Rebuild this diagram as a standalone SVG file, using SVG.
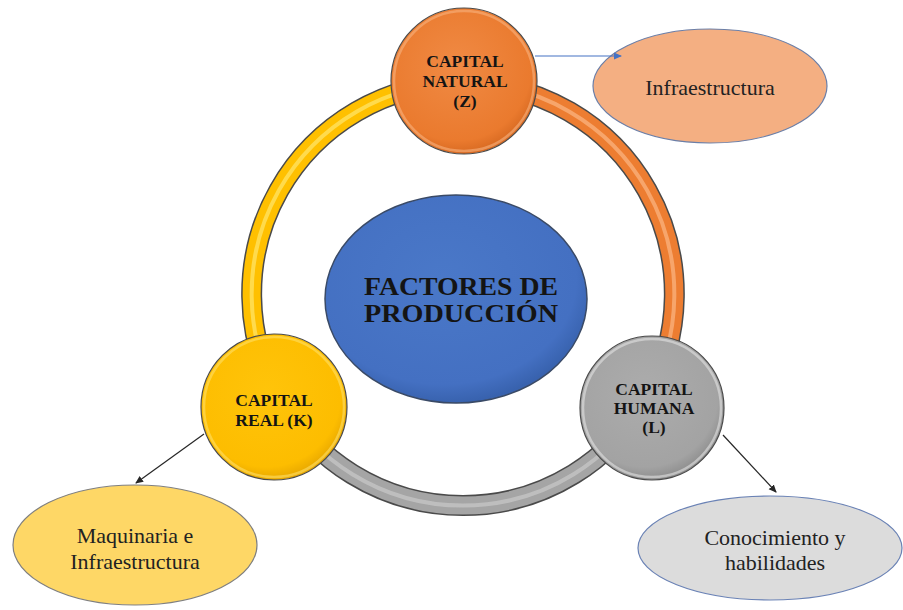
<svg xmlns="http://www.w3.org/2000/svg" width="903" height="610" viewBox="0 0 903 610">
<defs>
<style>
.bold{font-family:"Liberation Serif","Times New Roman",serif;font-weight:bold;fill:#141414;text-anchor:middle}
.reg{font-family:"Liberation Serif","Times New Roman",serif;fill:#222;text-anchor:middle}
.node{stroke:#4a4a4a;stroke-width:1.2}
.rim{fill:none;stroke-width:2.5;stroke-opacity:0.6}
.ring-o{fill:none;stroke:#4a4a4a;stroke-width:21}
.ring{fill:none;stroke-width:18}
.hl{fill:none;stroke-width:4;stroke-opacity:0.55}
.conn{fill:none;stroke-width:1.2}
</style>
<radialGradient id="gO" cx="0.45" cy="0.4" r="0.6"><stop offset="0" stop-color="#F08A44"/><stop offset="0.85" stop-color="#EA7A2E"/><stop offset="1" stop-color="#D86A22"/></radialGradient>
<radialGradient id="gY" cx="0.45" cy="0.4" r="0.6"><stop offset="0" stop-color="#FFC40A"/><stop offset="0.85" stop-color="#FDBD00"/><stop offset="1" stop-color="#E8A800"/></radialGradient>
<radialGradient id="gG" cx="0.45" cy="0.4" r="0.6"><stop offset="0" stop-color="#ACACAC"/><stop offset="0.85" stop-color="#A3A3A3"/><stop offset="1" stop-color="#8E8E8E"/></radialGradient>
<radialGradient id="gB" cx="0.45" cy="0.4" r="0.6"><stop offset="0" stop-color="#4A78C8"/><stop offset="0.85" stop-color="#4470C2"/><stop offset="1" stop-color="#3862AE"/></radialGradient>
<marker id="aB" markerWidth="8" markerHeight="8" refX="7" refY="4" orient="auto" markerUnits="userSpaceOnUse"><path d="M0,0.5 L8,4 L0,7.5 Z" fill="#4472C4"/></marker>
<marker id="aK" markerWidth="8" markerHeight="8" refX="7" refY="4" orient="auto" markerUnits="userSpaceOnUse"><path d="M0,0.5 L8,4 L0,7.5 Z" fill="#262626"/></marker>
</defs>
<rect width="903" height="610" fill="#ffffff"/>

<g id="ring">
<path class="ring-o" d="M463,83 A211,211 0 0 1 644,403"/>
<path class="ring" stroke="#ED7D31" d="M463,83 A211,211 0 0 1 644,403"/>
<path class="hl" stroke="#FFC79A" d="M463,83 A211,211 0 0 1 644,403"/>
<path class="ring-o" d="M644,403 A211,211 0 0 1 282,403"/>
<path class="ring" stroke="#A5A5A5" d="M644,403 A211,211 0 0 1 282,403"/>
<path class="hl" stroke="#D4D4D4" d="M644,403 A211,211 0 0 1 282,403"/>
<path class="ring-o" d="M282,403 A211,211 0 0 1 463,83"/>
<path class="ring" stroke="#FFC000" d="M282,403 A211,211 0 0 1 463,83"/>
<path class="hl" stroke="#FFF08A" d="M282,403 A211,211 0 0 1 463,83"/>
</g>

<g id="center">
<ellipse cx="456" cy="299" rx="131" ry="104" fill="url(#gB)" stroke="#3a4a66" stroke-width="1.5"/>
<text class="bold" x="461" y="295" font-size="25.5" textLength="194" lengthAdjust="spacingAndGlyphs">FACTORES DE</text>
<text class="bold" x="461" y="322" font-size="25.5" textLength="194" lengthAdjust="spacingAndGlyphs">PRODUCCIÓN</text>
</g>

<g id="natural">
<circle class="node" cx="464" cy="81" r="73" fill="url(#gO)"/>
<circle class="rim" cx="464" cy="81" r="70" stroke="#F8B27E"/>
<text class="bold" x="465" y="67" font-size="17.5">CAPITAL</text>
<text class="bold" x="465" y="87" font-size="17.5">NATURAL</text>
<text class="bold" x="465" y="107" font-size="17.5">(Z)</text>
</g>

<g id="real">
<circle class="node" cx="274" cy="407" r="73" fill="url(#gY)"/>
<circle class="rim" cx="274" cy="407" r="70" stroke="#FFE066"/>
<text class="bold" x="274" y="406" font-size="17.5">CAPITAL</text>
<text class="bold" x="274" y="426" font-size="17.5">REAL (K)</text>
</g>

<g id="humana">
<circle class="node" cx="652" cy="408" r="72" fill="url(#gG)"/>
<circle class="rim" cx="652" cy="408" r="69" stroke="#E2E2E2"/>
<text class="bold" x="654" y="395" font-size="17.5">CAPITAL</text>
<text class="bold" x="654" y="414" font-size="17.5">HUMANA</text>
<text class="bold" x="654" y="433" font-size="17.5">(L)</text>
</g>

<g id="infra">
<ellipse cx="710" cy="86" rx="117" ry="57" fill="#F4AF82" stroke="#6b7fa8" stroke-width="1.2"/>
<text class="reg" x="710" y="95" font-size="22">Infraestructura</text>
</g>

<g id="maquinaria">
<ellipse cx="135" cy="545" rx="122" ry="60" fill="#FED766" stroke="#7f7f7f" stroke-width="1.2"/>
<text class="reg" x="135" y="543" font-size="22">Maquinaria e</text>
<text class="reg" x="135" y="569" font-size="22">Infraestructura</text>
</g>

<g id="conocimiento">
<ellipse cx="770" cy="548" rx="132" ry="52" fill="#DCDCDC" stroke="#6a82b5" stroke-width="1.2"/>
<text class="reg" x="775" y="545" font-size="22">Conocimiento y</text>
<text class="reg" x="775" y="570" font-size="22">habilidades</text>
</g>

<g id="connectors">
<line class="conn" stroke="#4472C4" x1="535" y1="56" x2="621" y2="56" marker-end="url(#aB)"/>
<line class="conn" stroke="#262626" x1="204" y1="434" x2="136" y2="483" marker-end="url(#aK)"/>
<line class="conn" stroke="#262626" x1="723" y1="435" x2="776" y2="492" marker-end="url(#aK)"/>
</g>
</svg>
